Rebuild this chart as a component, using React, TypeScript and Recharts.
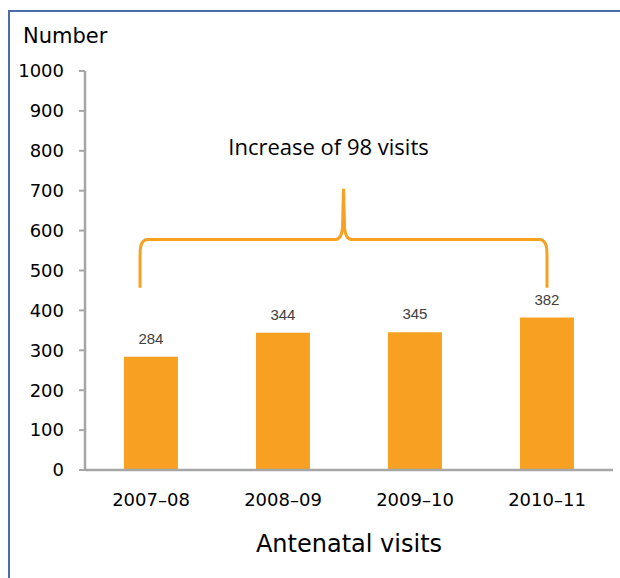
import { BarChart, Bar, XAxis, YAxis, LabelList, ReferenceArea, Customized } from "recharts";

const categories = ["2007–08", "2008–09", "2009–10", "2010–11"];
const visits = [284, 344, 345, 382];
const yTicks = [0, 100, 200, 300, 400, 500, 600, 700, 800, 900, 1000];

// brace annotation in data units: foot of the legs, arm level, tip; then the note above it
const braceLevels = [457, 578, 705];
const noteLevel = 812;
const noteText = "Increase of 98 visits";

const data = categories.map((period, i) => ({ period, visits: visits[i] }));

const orange = "#F7A021";
const axisGrey = "#A6A6A6";
const gothic = "'DejaVu Sans', sans-serif";

function BraceShape(props: any) {
  const { x, y, width, height } = props;
  const [foot, arm, tip] = braceLevels;
  const k = height / (noteLevel - foot);
  const py = (v: number) => y + height - (v - foot) * k;
  const band = width / categories.length;
  const xL = x + band * 0.417;
  const xR = x + band * 3.5;
  const xM = (xL + xR) / 2;
  const yF = py(foot);
  const yA = py(arm);
  const yT = py(tip);
  const d = [
    `M ${xL} ${yF}`,
    `L ${xL} ${yA + 16}`,
    `C ${xL} ${yA + 5} ${xL + 2} ${yA} ${xL + 8} ${yA}`,
    `L ${xM - 8} ${yA}`,
    `Q ${xM - 2} ${yA} ${xM - 1} ${yA - 12}`,
    `L ${xM} ${yT}`,
    `L ${xM + 1} ${yA - 12}`,
    `Q ${xM + 2} ${yA} ${xM + 8} ${yA}`,
    `L ${xR - 8} ${yA}`,
    `C ${xR - 2} ${yA} ${xR} ${yA + 5} ${xR} ${yA + 16}`,
    `L ${xR} ${yF}`,
  ].join(" ");
  return (
    <g>
      <path d={d} fill="none" stroke={orange} strokeWidth={3} />
      <text
        x={xM - 15}
        y={py(noteLevel)}
        textAnchor="middle"
        dominantBaseline="central"
        fontFamily="'Open Sans', sans-serif"
        fontSize={22}
        fill="#000"
      >
        {noteText}
      </text>
    </g>
  );
}

function UnitsTitle() {
  return (
    <text x={13} y={24} dominantBaseline="central" fontFamily={gothic} fontSize={21} fill="#000">
      Number
    </text>
  );
}

export default function App() {
  return (
    <>
      <style>{"html, body { overflow: hidden; }"}</style>
      <div
        style={{
          position: "fixed",
          left: 8,
          top: 10,
          width: 612,
          height: 568,
          boxSizing: "border-box",
          borderTop: "2px solid #4A6DA7",
          borderLeft: "2px solid #4A6DA7",
          overflow: "hidden",
          background: "#fff",
        }}
      >
        <BarChart
          width={610}
          height={566}
          data={data}
          margin={{ top: 59, right: 7, left: 0, bottom: 8 }}
          barCategoryGap="29.5%"
        >
          <XAxis
            dataKey="period"
            height={100}
            axisLine={{ stroke: axisGrey, strokeWidth: 2.5 }}
            tickLine={false}
            tickSize={6}
            tickMargin={17}
            tick={{ fill: "#000", fontSize: 18, fontFamily: gothic }}
            label={{
              value: "Antenatal visits",
              position: "insideBottom",
              offset: 18,
              fill: "#000",
              fontSize: 24,
              fontFamily: gothic,
            }}
          />
          <YAxis
            width={75}
            domain={[0, 1000]}
            ticks={yTicks}
            interval={0}
            axisLine={{ stroke: axisGrey, strokeWidth: 2.5 }}
            tickLine={{ stroke: axisGrey, strokeWidth: 2 }}
            tickSize={6}
            tickMargin={15}
            tick={{ fill: "#000", fontSize: 18, fontFamily: gothic }}
          />
          <Bar dataKey="visits" fill={orange} isAnimationActive={false}>
            <LabelList
              dataKey="visits"
              position="top"
              offset={13}
              fill="#404040"
              fontSize={15}
              fontFamily="'Liberation Sans', Arial, sans-serif"
            />
          </Bar>
          <ReferenceArea
            x1={categories[0]}
            x2={categories[categories.length - 1]}
            y1={braceLevels[0]}
            y2={noteLevel}
            shape={<BraceShape />}
          />
          <Customized component={UnitsTitle} />
        </BarChart>
      </div>
    </>
  );
}
